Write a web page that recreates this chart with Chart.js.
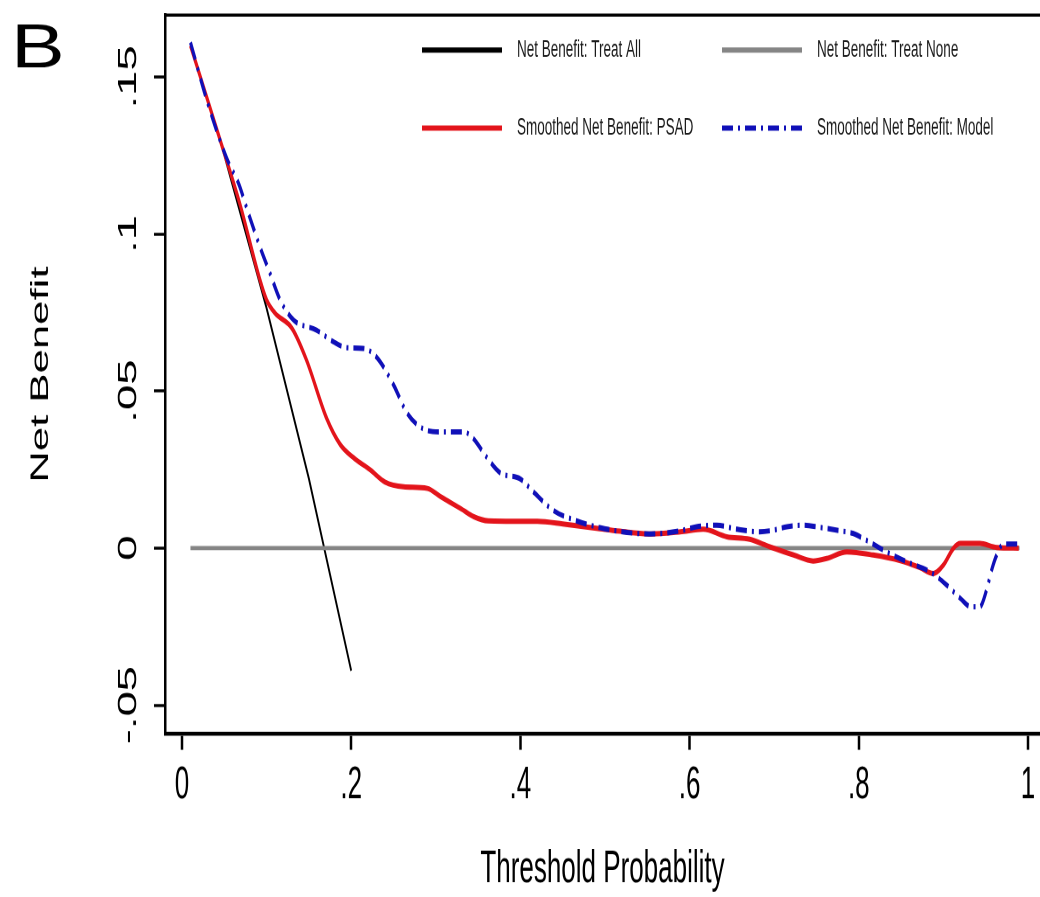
<!DOCTYPE html>
<html>
<head>
<meta charset="utf-8">
<script src="https://cdn.jsdelivr.net/npm/chart.js@4.4.1/dist/chart.umd.min.js"></script>
<style>
    html, body { margin: 0; padding: 0; background: #ffffff; }
</style>
</head>
<body>
<!-- the original figure is stretched vertically, so the canvas is drawn short and stretched by css -->
<canvas id="grafico" width="1040" height="513" style="display:block;width:1040px;height:897px"></canvas>
<script>

// valores
const treatAllX = [0.01, 0.05, 0.10, 0.15, 0.20];
const treatAllY = [0.1604, 0.1251, 0.0764, 0.0221, -0.039];

const treatNoneX = [0.01, 0.99];
const treatNoneY = [0, 0];

const psadX = [
    0.01, 0.045, 0.069, 0.092, 0.100, 0.110, 0.130, 0.147, 0.171, 0.187,
    0.204, 0.222, 0.240, 0.262, 0.290, 0.305, 0.330, 0.345, 0.362, 0.420,
    0.450, 0.490, 0.530, 0.555, 0.589, 0.616, 0.644, 0.671, 0.695, 0.723,
    0.746, 0.762, 0.786, 0.817, 0.849, 0.872, 0.888, 0.900, 0.912, 0.920,
    0.943, 0.963, 0.989
];
const psadY = [
    0.160, 0.130, 0.109, 0.0855, 0.079, 0.0748, 0.070, 0.060, 0.0413, 0.033,
    0.0285, 0.025, 0.021, 0.0195, 0.019, 0.0165, 0.0125, 0.010, 0.0087, 0.0085,
    0.0077, 0.0063, 0.005, 0.0045, 0.0052, 0.006, 0.0036, 0.0028, 0.0004, -0.0022,
    -0.0041, -0.0033, -0.0012, -0.0022, -0.004, -0.0062, -0.0081, -0.0054, 0.0, 0.0015,
    0.0015, 0.0002, 0.0
];

const modelX = [
    0.01, 0.03, 0.053, 0.067, 0.078, 0.092, 0.104, 0.116, 0.132, 0.159,
    0.179, 0.195, 0.214, 0.230, 0.250, 0.266, 0.285, 0.305, 0.333, 0.344,
    0.360, 0.376, 0.400, 0.415, 0.439, 0.463, 0.494, 0.526, 0.553, 0.589,
    0.608, 0.632, 0.656, 0.683, 0.699, 0.715, 0.734, 0.754, 0.778, 0.793,
    0.809, 0.833, 0.857, 0.884, 0.904, 0.920, 0.933, 0.943, 0.951, 0.957,
    0.963, 0.971, 0.989
];
const modelY = [
    0.161, 0.142, 0.124, 0.116, 0.107, 0.096, 0.0875, 0.079, 0.0726, 0.0694,
    0.0657, 0.0638, 0.0636, 0.0608, 0.052, 0.043, 0.038, 0.037, 0.037, 0.035,
    0.029, 0.024, 0.022, 0.018, 0.012, 0.009, 0.0065, 0.005, 0.0045, 0.0055,
    0.0068, 0.0073, 0.006, 0.0052, 0.0057, 0.0068, 0.0073, 0.0066, 0.0055, 0.0047,
    0.0025, -0.0012, -0.0044, -0.0075, -0.0118, -0.016, -0.0187, -0.0187, -0.0134, -0.007,
    -0.0022, 0.0013, 0.0013
];

const xTicks = [0, 0.2, 0.4, 0.6, 0.8, 1];
const yTicks = [-0.05, 0, 0.05, 0.1, 0.15];

const esticar = 897 / 513;
const fonte = "'Liberation Sans', Arial, Helvetica, sans-serif";

Chart.defaults.font.family = fonte;
Chart.defaults.color = "#000";

function pontos(xs, ys) {
    return xs.map(function(x, i) {
        return { x: x, y: ys[i] };
    });
}

// estilo stata: .2 em vez de 0.2
function formatoStata(valor) {
    if (valor === 0) return "0";
    let texto = String(Math.round(valor * 100) / 100);
    return texto.replace("0.", ".");
}

const extras = {
    id: "extras",
    afterDraw(chart) {
        const ctx = chart.ctx;
        const area = chart.chartArea;

        ctx.save();

        // linha de cima da moldura
        ctx.strokeStyle = "#000";
        ctx.lineWidth = 1.8;
        ctx.beginPath();
        ctx.moveTo(area.left, area.top);
        ctx.lineTo(area.right, area.top);
        ctx.stroke();

        // legenda 2 x 2
        chart.data.datasets.forEach(function(ds, i) {
            let coluna = i % 2;
            let linha = Math.floor(i / 2);
            let x0 = coluna ? 722 : 422;
            let y = linha ? 73.2 : 28.6;

            ctx.strokeStyle = ds.borderColor;
            ctx.lineWidth = 3;
            ctx.setLineDash(ds.borderDash || []);
            ctx.beginPath();
            ctx.moveTo(x0, y);
            ctx.lineTo(x0 + 80, y);
            ctx.stroke();
            ctx.setLineDash([]);

            ctx.fillStyle = "#1a1a1a";
            ctx.font = "13.5px " + fonte;
            ctx.textBaseline = "middle";
            ctx.textAlign = "left";
            ctx.fillText(ds.label, x0 + 95, y);
        });

        // letra do painel, sem o esticar vertical
        ctx.translate(11, 67 / esticar);
        ctx.scale(1.3, 1 / esticar);
        ctx.fillStyle = "#000";
        ctx.font = "62px " + fonte;
        ctx.textBaseline = "alphabetic";
        ctx.fillText("B", 0, 0);

        ctx.restore();
    }
};

new Chart(document.getElementById("grafico"), {

    type: "line",

    data: {
        datasets: [
            {
                label: "Net Benefit: Treat All",
                data: pontos(treatAllX, treatAllY),
                borderColor: "#000000",
                borderWidth: 1.8,
                pointRadius: 0,
                order: 4
            },
            {
                label: "Net Benefit: Treat None",
                data: pontos(treatNoneX, treatNoneY),
                borderColor: "#858585",
                borderWidth: 2.3,
                pointRadius: 0,
                order: 3
            },
            {
                label: "Smoothed Net Benefit: PSAD",
                data: pontos(psadX, psadY),
                borderColor: "#e3141b",
                borderWidth: 3,
                pointRadius: 0,
                cubicInterpolationMode: "monotone",
                order: 2
            },
            {
                label: "Smoothed Net Benefit: Model",
                data: pontos(modelX, modelY),
                borderColor: "#1010b8",
                borderWidth: 3,
                borderDash: [11, 5, 2, 5],
                pointRadius: 0,
                cubicInterpolationMode: "monotone",
                order: 1
            }
        ]
    },

    options: {
        responsive: false,
        animation: false,
        devicePixelRatio: 2,

        layout: {
            padding: { top: 8.6, right: 0, bottom: 0, left: 0 }
        },

        plugins: {
            legend: { display: false },
            tooltip: { enabled: false }
        },

        scales: {
            x: {
                type: "linear",
                min: -0.0201,
                max: 1.0142,
                afterBuildTicks: function(s) {
                    s.ticks = xTicks.map(function(v) { return { value: v }; });
                },
                afterFit: function(s) {
                    s.height = 93.2;
                    s.paddingLeft = 0;
                    s.paddingRight = 0;
                },
                grid: {
                    display: true,
                    drawOnChartArea: false,
                    drawTicks: true,
                    tickLength: 9,
                    tickWidth: 2.5,
                    tickColor: "#000"
                },
                border: { display: true, color: "#000", width: 2.3 },
                ticks: {
                    color: "#000",
                    padding: 5,
                    autoSkip: false,
                    maxRotation: 0,
                    font: { size: 26 },
                    callback: formatoStata
                },
                title: {
                    display: true,
                    text: "Threshold Probability",
                    color: "#000",
                    font: { size: 26 },
                    padding: { top: 0, bottom: 0 }
                }
            },

            y: {
                min: -0.0592,
                max: 0.1697,
                afterBuildTicks: function(s) {
                    s.ticks = yTicks.map(function(v) { return { value: v }; });
                },
                afterFit: function(s) {
                    s.width = 165;
                    s.paddingTop = 0;
                    s.paddingBottom = 0;
                },
                grid: {
                    display: true,
                    drawOnChartArea: false,
                    drawTicks: true,
                    tickLength: 11,
                    tickWidth: 1.7,
                    tickColor: "#000"
                },
                border: { display: true, color: "#000", width: 2.5 },
                ticks: {
                    color: "#000",
                    padding: 3,
                    minRotation: 90,
                    maxRotation: 90,
                    crossAlign: "center",
                    font: { size: 26 },
                    callback: formatoStata
                },
                title: {
                    display: true,
                    text: "Net Benefit",
                    color: "#000",
                    font: { size: 25 },
                    padding: { top: 26, bottom: 0 }
                }
            }
        }
    },

    plugins: [extras]
});
</script>
</body>
</html>
